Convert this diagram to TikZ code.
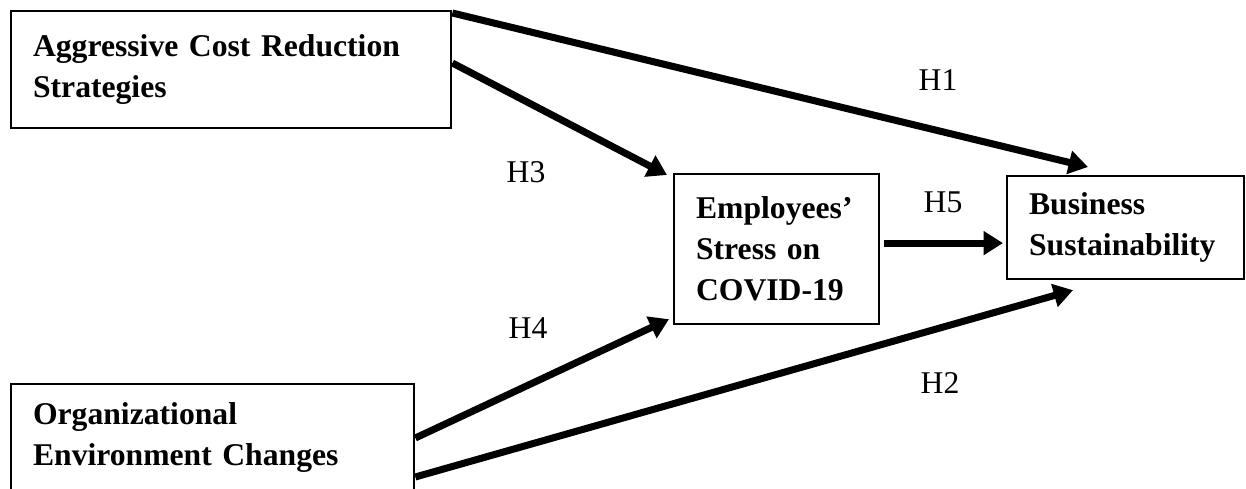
\documentclass[tikz,border=0pt]{standalone}
\usepackage{fontspec}
\setmainfont{Liberation Serif}
\usetikzlibrary{arrows.meta,calc}
\tikzset{>={Triangle[length=5.5pt,width=6.5pt]}}
\tikzset{var/.style={draw,line width=0.6pt,align=left,inner xsep=0.22cm,font=\bfseries\fontsize{9}{11.7}\selectfont}}
\tikzset{hyp/.style={font=\fontsize{9}{11}\selectfont}}
\tikzset{link/.style={->,line width=2pt}}

\begin{document}
\begin{tikzpicture}[x=0.01cm,y=-0.01cm]
        \useasboundingbox (0,0) rectangle (1246,488);
        \node(ACRS)[var,anchor=north west,text width=3.96cm,minimum height=1.17cm] at (10,10) {Aggressive Cost Reduction\\Strategies};
        \node(OEC)[var,anchor=north west,text width=3.59cm,inner ysep=0.18cm,text depth=3cm] at (10,383) {Organizational\\Environment Changes};
        \node(ESC)[var,anchor=north west,text width=1.61cm,minimum height=1.5cm] at (673,173) {Employees’\\Stress on\\COVID-19};
        \node(BS)[var,anchor=north west,text width=1.93cm,minimum height=1.03cm] at (1006,175) {Business\\Sustainability};
        \node(H1)[hyp] at (938,80) {H1};
        \node(H2)[hyp] at (940,383) {H2};
        \node(H3)[hyp] at (526,172) {H3};
        \node(H4)[hyp] at (528,328) {H4};
        \node(H5)[hyp] at (943,202) {H5};
        \draw[link] ($(ACRS.north east)+(0,3)$) -- ($(BS.north west)+(82,-8)$);
        \draw[link] ($(OEC.north east)+(0,94)$) -- ($(BS.south west)+(67,10)$);
        \draw[link] ($(ACRS.north east)+(0,53)$) -- ($(ESC.north west)+(-6,2)$);
        \draw[link] ($(OEC.north east)+(0,55)$) -- ($(ESC.south west)+(-4,-6)$);
        \draw[link] ($(ESC.east)+(4,-6)$) -- ($(BS.west |- ESC.east)+(-3,-6)$);
      \end{tikzpicture}
\end{document}
